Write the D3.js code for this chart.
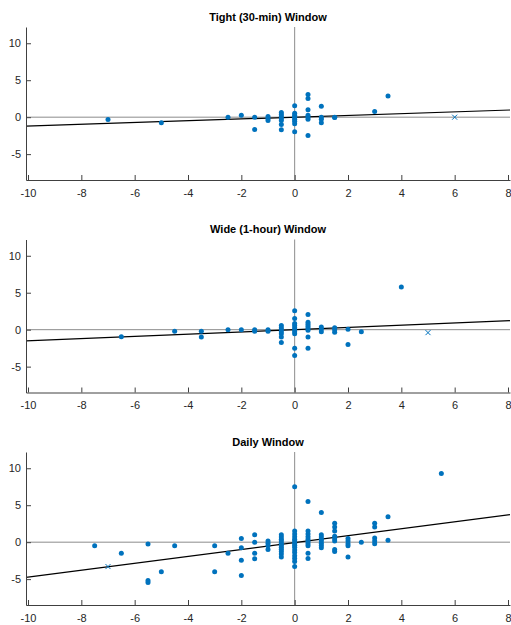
<!DOCTYPE html>
<html lang="en">
<head>
    <meta charset="UTF-8">
    <title>Windows scatter</title>
    <script src="https://d3js.org/d3.v7.min.js"></script>
    <style>
        body {
            margin: 0;
            padding: 0;
            background: #fff;
            font-family: "Liberation Sans", Arial, sans-serif;
        }
        .tick text {
            fill: #262626;
            font-size: 11px;
        }
    </style>
</head>
<body>
    <div id="chart"></div>
    <script>
        const titles = ["Tight (30-min) Window", "Wide (1-hour) Window", "Daily Window"];
        const xTicks = [-10, -8, -6, -4, -2, 0, 2, 4, 6, 8];
        const yTicks = [-5, 0, 5, 10];

        const tightPoints = [
            [-7, -0.3], [-5, -0.75], [-2.5, 0], [-2, 0.27],
            [-1.5, 0], [-1.5, -1.67],
            [-1, 0.08], [-1, -0.18], [-1, -0.45],
            [-0.5, 0.63], [-0.5, 0.36], [-0.5, 0.08], [-0.5, -0.18], [-0.5, -0.45], [-0.5, -1.0], [-0.5, -1.71],
            [0, 1.53], [0, 0.54], [0, 0.27], [0, 0], [0, -0.27], [0, -0.54], [0, -0.9], [0, -1.98],
            [0.5, 3.06], [0.5, 2.52], [0.5, 0.99], [0.5, 0.27], [0.5, 0], [0.5, -0.27], [0.5, -2.48],
            [1, 1.48], [1, 0], [1, -0.27], [1, -0.77],
            [1.5, 0], [1.5, -0.05],
            [3, 0.76], [3.5, 2.88]
        ];
        const widePoints = [
            [-6.5, -0.95], [-4.5, -0.23], [-3.5, -0.23], [-3.5, -1.0],
            [-2.5, 0], [-2, 0], [-1.5, 0], [-1.5, -0.23], [-1, 0], [-1, -0.2],
            [-0.5, 0.55], [-0.5, 0.27], [-0.5, 0], [-0.5, -0.27], [-0.5, -0.55], [-0.5, -1.0], [-0.5, -1.73],
            [0, 2.55], [0, 1.5], [0, 0.82], [0, 0.55], [0, 0.27], [0, 0], [0, -0.27], [0, -0.55], [0, -2.5], [0, -3.5],
            [0.5, 2.05], [0.5, 1.0], [0.5, 0.73], [0.5, 0.45], [0.5, 0.18], [0.5, -0.09], [0.5, -1.0], [0.5, -2.5],
            [1, 0.36], [1, 0.09], [1, -0.27],
            [1.5, 0.27], [1.5, 0], [1.5, -0.36],
            [2, 0.05], [2, -2.0], [2.5, -0.27],
            [4, 5.77]
        ];
        const dailyPoints = [
            [-7.5, -0.5], [-6.5, -1.5], [-5.5, -0.25], [-5.5, -5.2], [-5.5, -5.45], [-5, -4], [-4.5, -0.5],
            [-3, -0.5], [-3, -4], [-2.5, -1.5],
            [-2, 0.5], [-2, -0.75], [-2, -2.45], [-2, -4.5],
            [-1.5, 1], [-1.5, 0], [-1.5, -1.5], [-1.5, -2.25],
            [-1, 0.15], [-1, -0.15], [-1, -0.5], [-1, -1],
            [-0.5, 1], [-0.5, 0.7], [-0.5, 0.4], [-0.5, 0.15], [-0.5, -0.15], [-0.5, -0.4], [-0.5, -0.7],
            [-0.5, -0.95], [-0.5, -1.25], [-0.5, -1.6], [-0.5, -2],
            [0, 7.5], [0, 1.5], [0, 1.1], [0, 0.75], [0, 0.4], [0, 0.15], [0, -0.15], [0, -0.4], [0, -0.7],
            [0, -1.05], [0, -1.4], [0, -1.85], [0, -2.2], [0, -2.6], [0, -3.3],
            [0.5, 5.5], [0.5, 1.5], [0.5, 1.1], [0.5, 0.75], [0.5, 0.4], [0.5, 0.1], [0.5, -0.2], [0.5, -0.5],
            [0.5, -1.5], [0.5, -2.2],
            [1, 4], [1, 1], [1, 0.7], [1, 0.4], [1, 0.15], [1, -0.15], [1, -0.45], [1, -0.75],
            [1.5, 2.55], [1.5, 2.05], [1.5, 1.5], [1.5, 0.8], [1.5, 0.45], [1.5, 0.15], [1.5, -1.0], [1.5, -1.25],
            [2, 0.5], [2, 0.15], [2, -0.2], [2, -0.5], [2, -2],
            [2.5, 0],
            [3, 2.55], [3, 2.05], [3, 0.55], [3, 0.15], [3, -0.2],
            [3.5, 3.45], [3.5, 0.25],
            [5.5, 9.3]
        ];
        const pointSets = [tightPoints, widePoints, dailyPoints];

        // excluded points drawn as x
        const outliers = [[6, 0], [5, -0.4], [-7, -3.3]];

        // fitted line y = slope * x + intercept
        const fitSlopes = [0.12, 0.15, 0.468];
        const fitIntercepts = [0.0, 0.0, -0.05];

        const width = 511, height = 625;
        const panelTop = 27, panelHeight = 153, panelStep = 212.5;
        const left = 26, right = 510;
        const blue = "#0072BD";

        const svg = d3.select("#chart").append("svg")
            .attr("width", width)
            .attr("height", height);

        const x = d3.scaleLinear().domain([-10.075, 8.075]).range([left, right]);

        titles.forEach((title, i) => {
            const top = panelTop + i * panelStep;
            const y = d3.scaleLinear().domain([-8.5, 12.2]).range([top + panelHeight, top]);
            const g = svg.append("g");

            // zero lines
            g.append("line")
                .attr("x1", left).attr("x2", right)
                .attr("y1", y(0)).attr("y2", y(0))
                .attr("stroke", "#8c8c8c").attr("stroke-width", 1);
            g.append("line")
                .attr("x1", x(0)).attr("x2", x(0))
                .attr("y1", top).attr("y2", top + panelHeight)
                .attr("stroke", "#8c8c8c").attr("stroke-width", 1);

            // fit
            const dom = x.domain();
            g.append("line")
                .attr("x1", x(dom[0])).attr("x2", x(dom[1]))
                .attr("y1", y(fitSlopes[i] * dom[0] + fitIntercepts[i]))
                .attr("y2", y(fitSlopes[i] * dom[1] + fitIntercepts[i]))
                .attr("stroke", "#000").attr("stroke-width", 1.2);

            g.selectAll("circle.pt")
                .data(pointSets[i])
                .enter().append("circle")
                .attr("class", "pt")
                .attr("cx", d => x(d[0]))
                .attr("cy", d => y(d[1]))
                .attr("r", 2.5)
                .attr("fill", blue);

            const o = outliers[i];
            const s = 2.5;
            g.append("path")
                .attr("d", `M${x(o[0]) - s},${y(o[1]) - s}L${x(o[0]) + s},${y(o[1]) + s}M${x(o[0]) - s},${y(o[1]) + s}L${x(o[0]) + s},${y(o[1]) - s}`)
                .attr("stroke", blue).attr("stroke-width", 1).attr("fill", "none");

            // axes, plain hyphen minus like the original
            const fmt = d => String(d);
            const xAxis = g.append("g")
                .attr("transform", `translate(0,${top + panelHeight})`)
                .call(d3.axisBottom(x).tickValues(xTicks).tickFormat(fmt).tickSize(-5).tickSizeOuter(0).tickPadding(9));
            const yAxis = g.append("g")
                .attr("transform", `translate(${left},0)`)
                .call(d3.axisLeft(y).tickValues(yTicks).tickFormat(fmt).tickSize(-5).tickSizeOuter(0).tickPadding(5));
            [xAxis, yAxis].forEach(a => {
                a.select(".domain").attr("stroke", "#404040");
                a.selectAll(".tick line").attr("stroke", "#404040");
                a.attr("font-family", null).attr("font-size", null);
            });

            g.append("text")
                .attr("x", (left + right) / 2)
                .attr("y", top - 6.5)
                .attr("text-anchor", "middle")
                .attr("font-size", "11px")
                .attr("font-weight", "bold")
                .attr("fill", "#000")
                .text(title);
        });
    </script>
</body>
</html>
